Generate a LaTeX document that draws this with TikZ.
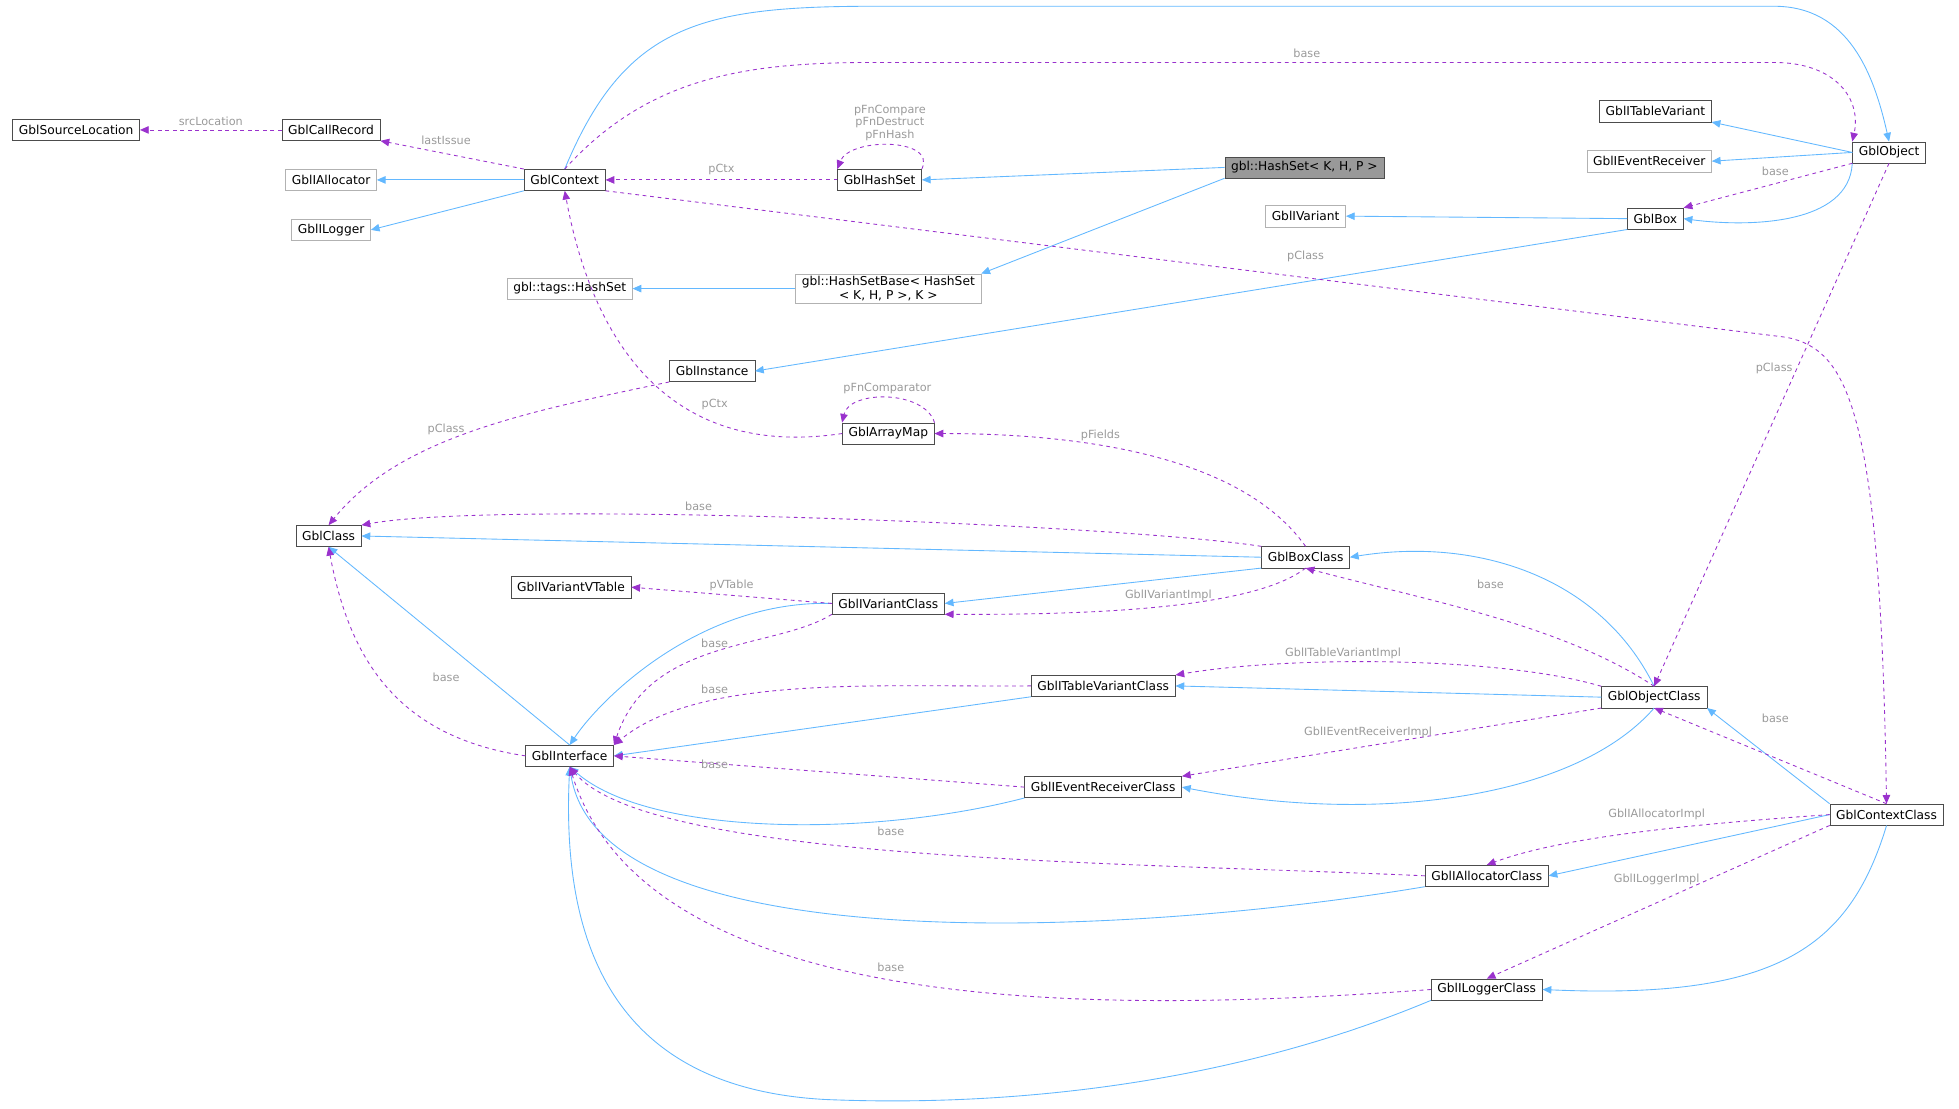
\documentclass[tikz,border=0pt]{standalone}
\usepackage{fontspec}
\setmainfont{DejaVu Sans}
\usetikzlibrary{arrows.meta}
\definecolor{inh}{HTML}{63B8FF}
\definecolor{usg}{HTML}{9A32CD}
\definecolor{lbl}{HTML}{9A9A9A}
\begin{document}
\begin{tikzpicture}[x=1pt,y=-1pt,
  every node/.style={font=\fontsize{9.8}{11}\selectfont},
  n/.style={draw=black!70,fill=white,minimum height=17pt,inner xsep=5pt,inner ysep=1pt,align=center},
  g/.style={n,draw=black!30},
  inh/.style={draw=inh,-{Triangle[length=7pt,width=6pt,fill=inh]},line width=0.7pt},
  use/.style={draw=usg,dashed,-{Triangle[length=7pt,width=6pt,fill=usg]},line width=0.7pt},
  l/.style={text=lbl,fill=none,font=\fontsize{9}{10}\selectfont}]
\useasboundingbox (0,0) rectangle (1568,887);
\node[n] (src) at (61,104) {GblSourceLocation};
\node[n] (call) at (265,104) {GblCallRecord};
\node[n] (ctx) at (452,144) {GblContext};
\node[g] (ialloc) at (265,144) {GblIAllocator};
\node[g] (ilog) at (265,184) {GblILogger};
\node[n] (hs) at (704,144) {GblHashSet};
\node[n,fill=black!40] (ghs) at (1044,134) {gbl::HashSet< K, H, P >};
\node[n] (obj) at (1512,122) {GblObject};
\node[n] (itv) at (1325,89) {GblITableVariant};
\node[g] (ier) at (1320,129) {GblIEventReceiver};
\node[n] (box) at (1325,175) {GblBox};
\node[g] (ivar) at (1045,173) {GblIVariant};
\node[g,inner ysep=2pt] (hsb) at (711,231) {gbl::HashSetBase< HashSet\\< K, H, P >, K >};
\node[g] (tags) at (456,231) {gbl::tags::HashSet};
\node[n] (inst) at (570,297) {GblInstance};
\node[n] (am) at (711,347) {GblArrayMap};
\node[n] (cls) at (263,429) {GblClass};
\node[n] (boxc) at (1045,446) {GblBoxClass};
\node[n] (ivvt) at (457,470) {GblIVariantVTable};
\node[n] (ivc) at (711,483) {GblIVariantClass};
\node[n] (itvc) at (883,549) {GblITableVariantClass};
\node[n] (objc) at (1324,558) {GblObjectClass};
\node[n] (intf) at (456,605) {GblInterface};
\node[n] (ierc) at (883,630) {GblIEventReceiverClass};
\node[n] (ctxc) at (1510,652) {GblContextClass};
\node[n] (iac) at (1190,701) {GblIAllocatorClass};
\node[n] (ilc) at (1190,792) {GblILoggerClass};

% inheritance
\draw[inh] (ctx.north) .. controls (500,20) and (560,5) .. (700,5) -- (1420,5) .. controls (1480,5) and (1500,60) .. (obj.north);
\draw[inh] (ctx.west) -- (ialloc.east);
\draw[inh] (ctx.south west) -- (ilog.east);
\draw[inh] (ghs.west) -- (hs.east);
\draw[inh] (ghs.south west) -- (hsb.north east);
\draw[inh] (hsb.west) -- (tags.east);
\draw[inh] (obj.west) -- (itv.south east);
\draw[inh] (obj.west) -- (ier.east);
\draw[inh] (obj.south west) .. controls (1480,180) and (1400,182) .. (box.east);
\draw[inh] (box.west) -- (ivar.east);
\draw[inh] (box.south west) -- (inst.east);
\draw[inh] (boxc.west) -- (cls.east);
\draw[inh] (boxc.south west) -- (ivc.east);
\draw[inh] (ivc.west) .. controls (560,480) and (480,560) .. (intf.north);
\draw[inh] (intf.north) -- (cls.south);
\draw[inh] (objc.north) .. controls (1280,460) and (1180,430) .. (boxc.east);
\draw[inh] (objc.west) -- (itvc.east);
\draw[inh] (objc.south) .. controls (1260,640) and (1100,660) .. (ierc.east);
\draw[inh] (itvc.south west) -- (intf.east);
\draw[inh] (ierc.south west) .. controls (700,670) and (520,670) .. (intf.south);
\draw[inh] (ctxc.north west) -- (objc.south east);
\draw[inh] (ctxc.west) -- (iac.east);
\draw[inh] (ctxc.south) .. controls (1480,760) and (1420,800) .. (ilc.east);
\draw[inh] (iac.south west) .. controls (900,750) and (480,770) .. (intf.south);
\draw[inh] (ilc.south west) .. controls (980,870) and (800,886) .. (660,880) .. controls (480,870) and (450,740) .. (intf.south);

% usage
\draw[use] (call.west) -- node[l,above]{srcLocation} (src.east);
\draw[use] (ctx.north west) -- (call.south east);
\node[l] at (357,112) {lastIssue};
\draw[use] (hs.west) -- node[l,above]{pCtx} (ctx.east);
\draw[use] (hs.north east) .. controls (750,110) and (680,110) .. (hs.north west) node[pos=0.5,l,above,align=center]{pFnCompare\\pFnDestruct\\pFnHash};
\draw[use] (ctx.north) .. controls (520,60) and (600,50) .. (700,50) -- (1420,50) .. controls (1470,50) and (1490,80) .. (obj.north west);
\node[l] at (1046,43) {base};
\draw[use] (obj.south west) -- (box.north east);
\node[l] at (1421,137) {base};
\draw[use] (obj.south) -- (objc.north);
\node[l] at (1420,295) {pClass};
\draw[use] (ctx.south east) -- (1430,270) .. controls (1480,280) and (1505,330) .. (ctxc.north);
\node[l] at (1045,205) {pClass};
\draw[use] (inst.south west) .. controls (420,330) and (320,350) .. (cls.north);
\node[l] at (357,344) {pClass};
\draw[use] (am.west) .. controls (520,370) and (470,250) .. (ctx.south);
\node[l] at (572,324) {pCtx};
\draw[use] (am.north east) .. controls (740,312) and (680,312) .. (am.north west) node[pos=0.5,l,above]{pFnComparator};
\draw[use] (boxc.north) .. controls (990,360) and (850,347) .. node[l,pos=0.6,above]{pFields} (am.east);
\draw[use] (boxc.north west) .. controls (900,420) and (400,400) .. node[l,above,pos=0.6]{base} (cls.north east);
\draw[use] (boxc.south) .. controls (1000,490) and (850,492) .. node[l,above,pos=0.45]{GblIVariantImpl} (ivc.south east);
\draw[use] (ivc.west) -- node[l,above]{pVTable} (ivvt.east);
\draw[use] (ivc.south west) .. controls (620,520) and (520,510) .. (intf.north east);
\node[l] at (572,515) {base};
\draw[use] (intf.west) .. controls (320,590) and (280,530) .. (cls.south);
\node[l] at (357,542) {base};
\draw[use] (itvc.west) .. controls (700,550) and (560,540) .. (intf.north east);
\node[l] at (572,552) {base};
\draw[use] (objc.north) .. controls (1250,500) and (1140,480) .. (boxc.south);
\node[l] at (1193,468) {base};
\draw[use] (objc.north west) .. controls (1200,525) and (1030,525) .. (itvc.north east);
\node[l] at (1075,523) {GblITableVariantImpl};
\draw[use] (objc.south west) -- (ierc.north east);
\node[l] at (1095,586) {GblIEventReceiverImpl};
\draw[use] (ierc.west) -- (intf.east);
\node[l] at (572,612) {base};
\draw[use] (ctxc.north) -- (objc.south);
\node[l] at (1421,575) {base};
\draw[use] (ctxc.west) .. controls (1350,660) and (1250,670) .. (iac.north);
\node[l] at (1326,652) {GblIAllocatorImpl};
\draw[use] (ctxc.south west) -- (ilc.north);
\node[l] at (1326,704) {GblILoggerImpl};
\draw[use] (iac.west) .. controls (900,690) and (520,690) .. (intf.south);
\node[l] at (713,665) {base};
\draw[use] (ilc.west) .. controls (900,810) and (520,820) .. (intf.south);
\node[l] at (713,774) {base};
\end{tikzpicture}
\end{document}
